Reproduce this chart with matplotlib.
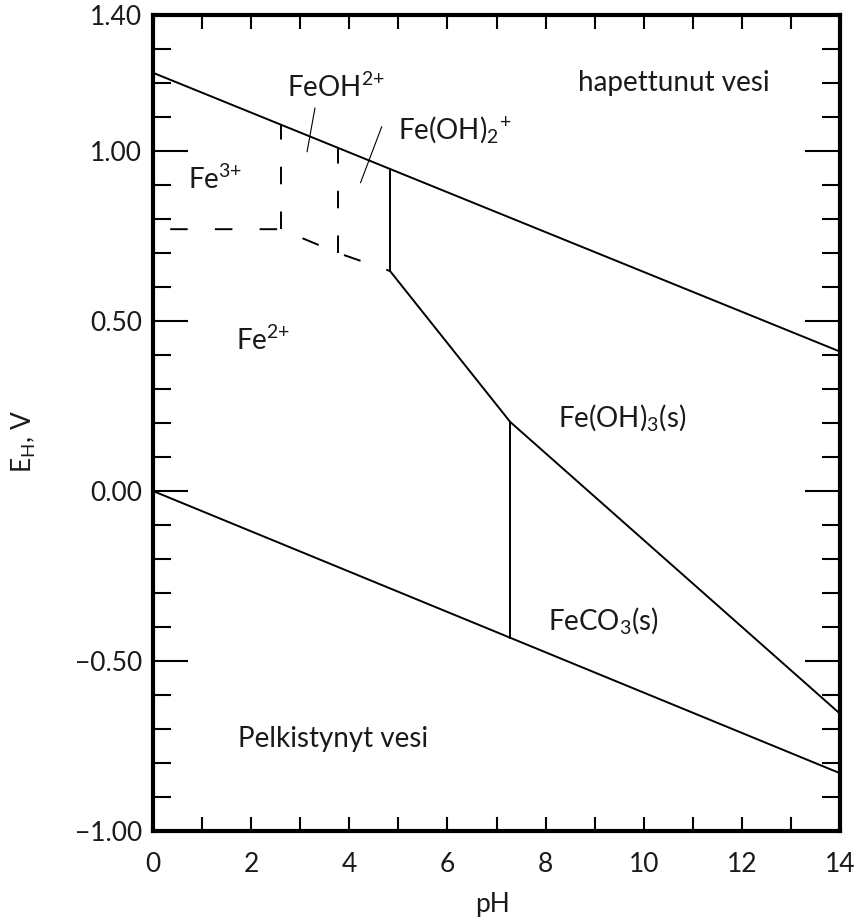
import matplotlib
matplotlib.use("Agg")
import matplotlib.pyplot as plt
from matplotlib.ticker import MultipleLocator

plt.rcParams['font.family'] = ['Lato', 'DejaVu Sans']
plt.rcParams['mathtext.fontset'] = 'custom'
plt.rcParams['mathtext.rm'] = 'Lato'
plt.rcParams['mathtext.it'] = 'Lato'
plt.rcParams['mathtext.default'] = 'regular'

# Water stability lines
o2_ph = [0, 14]
o2_e = [1.23, 0.41]
h2_ph = [0, 14]
h2_e = [0.0, -0.83]

# Dashed boundaries (Fe3+ / FeOH2+ / Fe(OH)2+ vs Fe2+)
dash_low_ph = [0.35, 2.6, 3.77, 4.83]
dash_low_e = [0.77, 0.77, 0.70, 0.647]
dash_v1_ph = [2.6, 2.6]
dash_v1_e = [0.77, 1.078]
dash_v2_ph = [3.77, 3.77]
dash_v2_e = [0.70, 1.009]

# Solid boundaries
solid_v1_ph = [4.83, 4.83]
solid_v1_e = [0.647, 0.947]
fe3_ph = [4.83, 7.28, 14]
fe3_e = [0.647, 0.203, -0.655]
co3_ph = [7.28, 7.28]
co3_e = [0.203, -0.432]

# Leader lines
lead1_ph = [3.30, 3.14]
lead1_e = [1.126, 0.998]
lead2_ph = [4.66, 4.23]
lead2_e = [1.071, 0.907]

labels = ["hapettunut vesi", r"FeOH$^{2{+}}$", r"Fe(OH)$_2$$^{+}$", r"Fe$^{3{+}}$",
          r"Fe$^{2{+}}$", r"Fe(OH)$_3$(s)", r"FeCO$_3$(s)", "Pelkistynyt vesi"]
label_ph = [8.66, 2.73, 4.99, 0.71, 1.69, 8.25, 8.05, 1.73]
label_e = [1.20, 1.188, 1.062, 0.915, 0.444, 0.215, -0.38, -0.73]

xticks = [0, 2, 4, 6, 8, 10, 12, 14]
yticks = [-1.0, -0.5, 0.0, 0.5, 1.0, 1.4]

fig = plt.figure(figsize=(8.62, 9.24), dpi=100)
ax = fig.add_axes([0.1775, 0.1006, 0.797, 0.8832])

lw = 1.4
ax.plot(o2_ph, o2_e, color='black', lw=lw)
ax.plot(h2_ph, h2_e, color='black', lw=lw)
for xs, ys in [(dash_low_ph, dash_low_e), (dash_v1_ph, dash_v1_e), (dash_v2_ph, dash_v2_e)]:
    ax.plot(xs, ys, color='black', lw=lw, dashes=(9, 14))
for xs, ys in [(solid_v1_ph, solid_v1_e), (fe3_ph, fe3_e), (co3_ph, co3_e)]:
    ax.plot(xs, ys, color='black', lw=lw)
ax.plot(lead1_ph, lead1_e, color='black', lw=0.8)
ax.plot(lead2_ph, lead2_e, color='black', lw=0.8)

for t, x, y in zip(labels, label_ph, label_e):
    ax.text(x, y, t, fontsize=20, ha='left', va='center', color='#1a1a1a')

ax.set_xlim(0, 14)
ax.set_ylim(-1.0, 1.4)
ax.set_xticks(xticks)
ax.xaxis.set_minor_locator(MultipleLocator(1))
ax.set_yticks(yticks)
ax.yaxis.set_minor_locator(MultipleLocator(0.1))
ax.set_yticklabels([f"{v:.2f}".replace('-', '\u2212') for v in yticks])
ax.set_xticklabels([str(v) for v in xticks])

ax.tick_params(axis='x', which='both', direction='in', top=True, bottom=True,
               length=10, width=1.5, labelsize=19, pad=15, labelcolor='#1a1a1a')
ax.tick_params(axis='y', which='major', direction='in', left=True, right=True,
               length=25, width=1.5, labelsize=19, pad=8, labelcolor='#1a1a1a')
ax.tick_params(axis='y', which='minor', direction='in', left=True, right=True,
               length=13, width=1.5)
for s in ax.spines.values():
    s.set_linewidth(3)

ax.set_xlabel("pH", fontsize=19, color='#1a1a1a')
ax.xaxis.set_label_coords(0.494, -0.075)
ax.set_ylabel(r"E$_H$, V", fontsize=19, color='#1a1a1a')
ax.yaxis.set_label_coords(-0.168, 0.477)

fig.savefig("out.png", dpi=100)
